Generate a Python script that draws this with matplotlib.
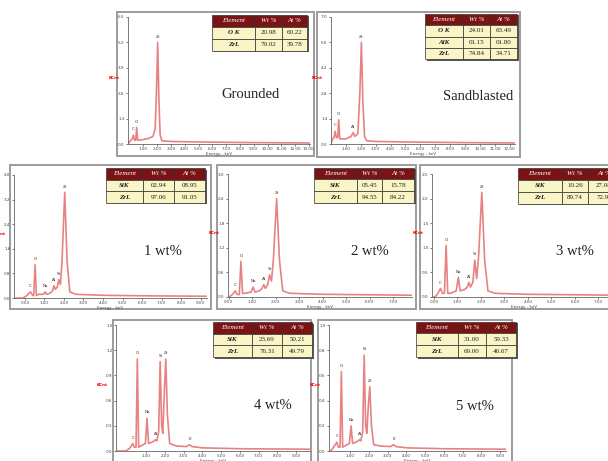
import numpy as np
import matplotlib.pyplot as plt
from matplotlib.patches import Rectangle

W, H = 608, 461

# EDS spectra: energy (keV) and counts as a fraction of full scale
grounded_e = [-0.1, 0.1, 0.2, 0.28, 0.36, 0.45, 0.52, 0.59, 0.7, 1.0, 1.4, 1.7, 1.86, 1.95, 2.04, 2.13, 2.22, 2.35, 3.0, 5.0, 8.0, 13.1]
grounded_c = [0.0, 0.03, 0.04, 0.07, 0.03, 0.03, 0.13, 0.03, 0.03, 0.035, 0.045, 0.06, 0.12, 0.40, 0.80, 0.35, 0.07, 0.025, 0.02, 0.016, 0.012, 0.008]

sand_e = [0.0, 0.1, 0.2, 0.28, 0.36, 0.45, 0.52, 0.59, 0.7, 1.0, 1.35, 1.49, 1.6, 1.8, 1.93, 2.04, 2.14, 2.25, 2.4, 3.0, 5.0, 8.0, 12.4]
sand_c = [0.0, 0.04, 0.05, 0.10, 0.05, 0.05, 0.19, 0.04, 0.04, 0.04, 0.06, 0.09, 0.06, 0.08, 0.38, 0.80, 0.33, 0.06, 0.025, 0.02, 0.016, 0.012, 0.008]

wt1_e = [-0.5, -0.1, 0.1, 0.28, 0.4, 0.45, 0.52, 0.59, 0.7, 0.95, 1.04, 1.12, 1.3, 1.42, 1.49, 1.56, 1.66, 1.74, 1.82, 1.9, 2.04, 2.16, 2.3, 2.6, 4.0, 6.0, 9.4]
wt1_c = [0.0, 0.0, 0.02, 0.05, 0.02, 0.02, 0.27, 0.02, 0.03, 0.03, 0.05, 0.03, 0.04, 0.06, 0.10, 0.07, 0.09, 0.15, 0.11, 0.30, 0.86, 0.30, 0.05, 0.03, 0.022, 0.018, 0.014]

wt2_e = [0.0, 0.1, 0.2, 0.28, 0.36, 0.45, 0.52, 0.59, 0.7, 0.95, 1.04, 1.12, 1.3, 1.42, 1.49, 1.56, 1.66, 1.74, 1.82, 1.9, 2.04, 2.16, 2.3, 2.6, 4.0, 6.0, 8.0]
wt2_c = [0.0, 0.01, 0.03, 0.05, 0.02, 0.02, 0.29, 0.03, 0.03, 0.04, 0.08, 0.04, 0.05, 0.07, 0.10, 0.07, 0.10, 0.18, 0.13, 0.30, 0.80, 0.30, 0.05, 0.03, 0.022, 0.018, 0.014]

wt3_e = [0.0, 0.1, 0.2, 0.28, 0.36, 0.45, 0.52, 0.59, 0.7, 0.95, 1.04, 1.12, 1.3, 1.42, 1.49, 1.56, 1.66, 1.74, 1.82, 1.9, 2.04, 2.16, 2.3, 2.6, 4.0, 6.0, 8.0]
wt3_c = [0.0, 0.01, 0.04, 0.07, 0.03, 0.03, 0.42, 0.03, 0.03, 0.05, 0.16, 0.05, 0.06, 0.08, 0.12, 0.08, 0.12, 0.30, 0.15, 0.32, 0.85, 0.30, 0.05, 0.03, 0.022, 0.018, 0.014]

wt4_e = [-0.6, -0.1, 0.1, 0.28, 0.36, 0.45, 0.52, 0.59, 0.7, 0.95, 1.04, 1.12, 1.3, 1.42, 1.49, 1.56, 1.66, 1.74, 1.82, 1.88, 1.96, 2.04, 2.13, 2.25, 2.6, 3.15, 3.31, 3.45, 4.0, 6.0, 9.8]
wt4_c = [0.0, 0.0, 0.02, 0.06, 0.03, 0.03, 0.73, 0.03, 0.04, 0.06, 0.26, 0.06, 0.07, 0.08, 0.09, 0.08, 0.15, 0.71, 0.20, 0.14, 0.45, 0.73, 0.28, 0.06, 0.04, 0.035, 0.05, 0.035, 0.025, 0.018, 0.014]

wt5_e = [-0.14, -0.05, 0.1, 0.28, 0.36, 0.45, 0.52, 0.59, 0.7, 0.95, 1.04, 1.12, 1.3, 1.42, 1.49, 1.56, 1.66, 1.74, 1.82, 1.88, 1.96, 2.04, 2.13, 2.25, 2.6, 3.15, 3.31, 3.45, 4.0, 6.0, 9.4]
wt5_c = [0.0, 0.0, 0.03, 0.07, 0.03, 0.03, 0.63, 0.03, 0.04, 0.06, 0.20, 0.06, 0.07, 0.08, 0.09, 0.08, 0.15, 0.76, 0.20, 0.14, 0.35, 0.51, 0.20, 0.05, 0.04, 0.035, 0.05, 0.035, 0.025, 0.018, 0.014]

# peak labels
grounded_peaks = (["C", "O", "Zr"], [0.28, 0.52, 2.04])
sand_peaks = (["C", "O", "Al", "Zr"], [0.28, 0.52, 1.49, 2.04])
wt13_peaks = (["C", "O", "Na", "Al", "Si", "Zr"], [0.28, 0.52, 1.04, 1.49, 1.74, 2.04])
wt45_peaks = (["C", "O", "Na", "Al", "Si", "Zr", "K"], [0.28, 0.52, 1.04, 1.49, 1.74, 2.04, 3.31])

# composition tables
table_head = ["Element", "Wt %", "At %"]
grounded_rows = [["O K", "20.98", "60.22"], ["ZrL", "79.02", "39.78"]]
sand_rows = [["O K", "24.01", "63.49"], ["AlK", "01.15", "01.80"], ["ZrL", "74.84", "34.71"]]
wt1_rows = [["SiK", "02.94", "08.95"], ["ZrL", "97.06", "91.05"]]
wt2_rows = [["SiK", "05.45", "15.78"], ["ZrL", "94.55", "84.22"]]
wt3_rows = [["SiK", "10.26", "27.08"], ["ZrL", "89.74", "72.92"]]
wt4_rows = [["SiK", "23.69", "50.21"], ["ZrL", "76.31", "49.79"]]
wt5_rows = [["SiK", "31.00", "59.33"], ["ZrL", "69.00", "40.67"]]

names = ["Grounded", "Sandblasted", "1 wt%", "2 wt%", "3 wt%", "4 wt%", "5 wt%"]
spectra = [(grounded_e, grounded_c), (sand_e, sand_c), (wt1_e, wt1_c), (wt2_e, wt2_c),
           (wt3_e, wt3_c), (wt4_e, wt4_c), (wt5_e, wt5_c)]
peaks = [grounded_peaks, sand_peaks, wt13_peaks, wt13_peaks, wt13_peaks, wt45_peaks, wt45_peaks]
tables = [grounded_rows, sand_rows, wt1_rows, wt2_rows, wt3_rows, wt4_rows, wt5_rows]
yticklabels = [["0.0", "1.3", "2.6", "3.9", "5.2", "6.5"],
               ["0.0", "1.4", "2.8", "4.2", "5.6", "7.0"],
               ["0.0", "0.8", "1.6", "2.4", "3.2", "4.0"],
               ["0.0", "0.6", "1.2", "1.8", "2.4", "3.0"],
               ["0.0", "0.5", "1.0", "1.5", "2.0", "2.5"],
               ["0.0", "0.3", "0.6", "0.9", "1.2", "1.5"],
               ["0.0", "0.2", "0.4", "0.6", "0.8", "1.0"]]

# layout in pixels: frame, axes box, x range, table column edges, table top, row height, title centre
layout = [
    dict(frame=(116.5, 12.5, 313.5, 156.5), box=(128, 17, 310, 144), xlim=(-0.11, 13.08), ticks=range(1, 14),
         tab=[212, 255, 282, 307], top=15, rh=12, title=(250, 95)),
    dict(frame=(316.5, 12.5, 519.5, 157), box=(331, 17, 515, 144), xlim=(0, 12.35), ticks=range(1, 13),
         tab=[425, 463, 490, 517], top=14, rh=11.3, title=(478, 96)),
    dict(frame=(10, 165, 211, 309), box=(14, 175, 207, 298), xlim=(-0.56, 9.33), ticks=range(0, 10),
         tab=[106, 143, 174, 205], top=168, rh=11.6, title=(163, 251)),
    dict(frame=(216.5, 165, 415.5, 309), box=(228, 174, 412, 297), xlim=(-0.03, 7.8), ticks=range(0, 8),
         tab=[314, 357, 382, 414], top=167.5, rh=11.8, title=(370, 251)),
    dict(frame=(420, 165, 640, 309), box=(432, 174, 616, 297), xlim=(-0.08, 7.75), ticks=range(0, 8),
         tab=[518, 562, 588, 620], top=167.5, rh=12, title=(575, 251)),
    dict(frame=(112.5, 320, 311, 475), box=(116, 325, 310, 451), xlim=(-0.62, 9.75), ticks=range(1, 10),
         tab=[213, 252, 282, 312], top=322, rh=11.7, title=(273, 405)),
    dict(frame=(318, 320, 512, 475), box=(329, 325, 506, 451), xlim=(-0.14, 9.32), ticks=range(1, 10),
         tab=[416, 458, 486, 516], top=321.5, rh=11.9, title=(475, 406)),
]


def px_rect(x0, y0, x1, y1):
    return [x0 / W, 1 - y1 / H, (x1 - x0) / W, (y1 - y0) / H]


fig = plt.figure(figsize=(6.08, 4.61), dpi=100)
bg = fig.add_axes([0, 0, 1, 1], zorder=0)
fg = fig.add_axes([0, 0, 1, 1], zorder=10)
for o in (bg, fg):
    o.set_xlim(0, W)
    o.set_ylim(H, 0)
    o.axis('off')
    o.patch.set_alpha(0)

serif = 'Liberation Serif'
head_color = '#7a1414'
cell_color = '#f9f5c6'

for i, lay in enumerate(layout):
    fx0, fy0, fx1, fy1 = lay['frame']
    bg.add_patch(Rectangle((fx0, fy0), fx1 - fx0, fy1 - fy0, fc='white', ec='#9c9c9c', lw=1.4))

    ax = fig.add_axes(px_rect(*lay['box']), zorder=5)
    ax.patch.set_alpha(0)
    e, c = spectra[i]
    ax.plot(e, c, color='#e88282', lw=1.2)
    ax.set_xlim(*lay['xlim'])
    ax.set_ylim(0, 1)
    for s in ('top', 'right'):
        ax.spines[s].set_visible(False)
    for s in ('left', 'bottom'):
        ax.spines[s].set_color('#666666')
        ax.spines[s].set_linewidth(0.6)
    ax.set_xticks(list(lay['ticks']))
    ax.set_xticklabels(['%.2f' % t for t in lay['ticks']])
    ax.set_yticks(np.linspace(0, 1, 6))
    ax.set_yticklabels(yticklabels[i])
    ax.tick_params(length=1.5, width=0.5, pad=1, labelsize=3, colors='#444444')
    ax.set_xlabel('Energy - keV', fontsize=3, labelpad=0.5, color='#444444')
    ax.text(-0.045, 0.52, 'KCnt', transform=ax.transAxes, color='red', fontsize=3,
            ha='right', va='center', fontweight='bold')

    labs, pos = peaks[i]
    for lab, p in zip(labs, pos):
        ax.text(p, np.interp(p, e, c) + 0.03, lab, fontsize=3, ha='center', va='bottom', color='#333333')

    tx, ty = lay['title']
    fg.text(tx, ty, names[i], fontsize=10.5, family=serif, ha='center', va='center', color='#222222')

    xs, top, rh = lay['tab'], lay['top'], lay['rh']
    rows = tables[i]
    n = len(rows) + 1
    fg.add_patch(Rectangle((xs[0] + 1.5, top + 1.5), xs[-1] - xs[0], rh * n, fc='#555555', ec='none'))
    for r in range(n):
        y = top + r * rh
        for k in range(3):
            fc = head_color if r == 0 else cell_color
            fg.add_patch(Rectangle((xs[k], y), xs[k + 1] - xs[k], rh, fc=fc, ec='#333333', lw=0.5))
            if r == 0:
                txt, col, st, wt = table_head[k], 'white', 'italic', 'normal'
            else:
                txt, col = rows[r - 1][k], '#222222'
                st, wt = ('italic', 'bold') if k == 0 else ('normal', 'normal')
            fg.text((xs[k] + xs[k + 1]) / 2, y + rh / 2, txt, fontsize=5, family=serif,
                    style=st, weight=wt, color=col, ha='center', va='center')

fig.savefig('out.png', dpi=100)
